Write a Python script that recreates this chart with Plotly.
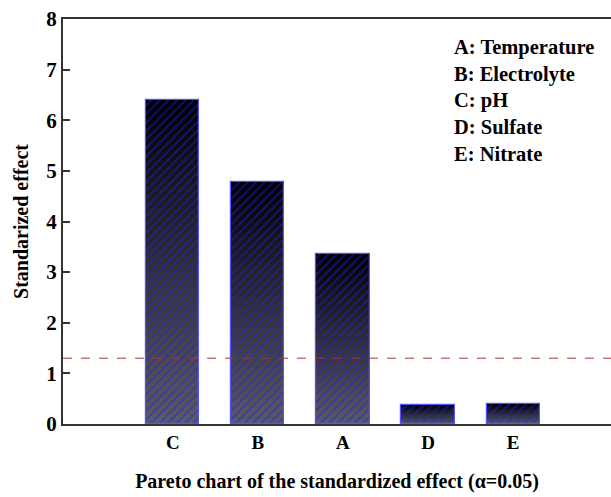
import plotly.graph_objects as go

# Factor effects, sorted as in a Pareto chart
categories = ["C", "B", "A", "D", "E"]
effects = [6.40, 4.78, 3.36, 0.375, 0.395]
reference_line = 1.30
factor_names = ["A: Temperature", "B: Electrolyte", "C: pH", "D: Sulfate", "E: Nitrate"]
y_ticks = [0, 1, 2, 3, 4, 5, 6, 7, 8]

FONT = "Liberation Serif"
N_SLICES = 48
TOP_RGB = (0, 0, 0)
BOTTOM_RGB = (92, 92, 96)

fig = go.Figure()

# Vertical gradient in each bar: stacked thin slices, gray at the base, black at the top
for k in range(N_SLICES):
    t = (k + 0.5) / N_SLICES
    r, g, b = [int(round(BOTTOM_RGB[i] + (TOP_RGB[i] - BOTTOM_RGB[i]) * t)) for i in range(3)]
    fig.add_trace(go.Bar(
        x=categories,
        y=[v / N_SLICES * 1.02 for v in effects],
        base=[v * k / N_SLICES for v in effects],
        marker=dict(color=f"rgb({r},{g},{b})", line=dict(width=0)),
        width=0.625,
        hoverinfo="skip",
        showlegend=False,
    ))

# Hatched overlay with the blue outline
fig.add_trace(go.Bar(
    x=categories,
    y=effects,
    width=0.625,
    marker=dict(
        color="rgba(0,0,0,0)",
        line=dict(color="#5555ff", width=1.2),
        pattern=dict(shape="/", fgcolor="#1c1cff", bgcolor="rgba(0,0,0,0)",
                     size=6, solidity=0.28, fillmode="overlay"),
    ),
    showlegend=False,
))

fig.add_hline(y=reference_line, line=dict(color="#b8302a", width=1, dash="dash"))

plot_w = 611 - 63
plot_h = 424 - 19
fig.add_annotation(
    x=(452 - 63) / plot_w, y=(424 - 34) / plot_h, xref="paper", yref="paper",
    text="<br>".join(f"<b>{n}</b>" for n in factor_names),
    showarrow=False, align="left", xanchor="left", yanchor="top",
    font=dict(family=FONT, size=20.5, color="black"),
)

fig.update_layout(
    width=611, height=497,
    margin=dict(l=63, r=0, t=19, b=73),
    barmode="overlay",
    bargap=0,
    plot_bgcolor="white",
    paper_bgcolor="white",
    font=dict(family=FONT, size=20, color="black"),
    xaxis=dict(
        range=[-1.29, 5.15],
        tickvals=categories, ticktext=[f"<b>{c}</b>" for c in categories],
        showline=True, linecolor="#333333", linewidth=2, mirror=True,
        showgrid=False, ticks="", zeroline=False,
        tickfont=dict(family=FONT, size=19, color="black"),
        title=dict(text="<b>Pareto chart of the standardized effect (α=0.05)</b>",
                   font=dict(family=FONT, size=20, color="black"), standoff=22),
    ),
    yaxis=dict(
        range=[0, 8], tickvals=y_ticks, ticktext=[f"<b>{v}</b>" for v in y_ticks],
        showline=True, linecolor="#333333", linewidth=2,
        showgrid=False, zeroline=False,
        ticks="inside", ticklen=7, tickwidth=2, tickcolor="#333333",
        tickfont=dict(family=FONT, size=21, color="black"),
        title=dict(text="<b>Standarized effect</b>",
                   font=dict(family=FONT, size=20, color="black"), standoff=12),
    ),
)

fig.write_html("out.html")
